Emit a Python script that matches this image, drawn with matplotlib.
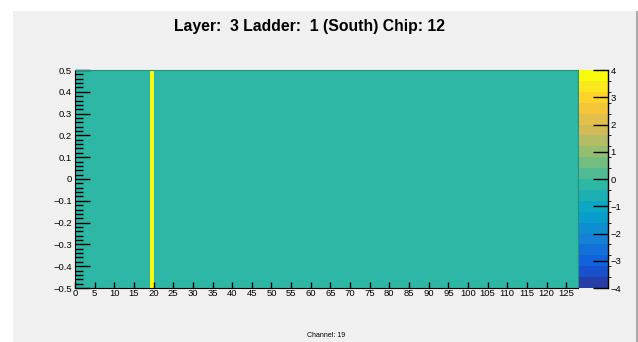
import numpy as np
import matplotlib
matplotlib.use("Agg")
import matplotlib.pyplot as plt
from matplotlib.colors import ListedColormap, BoundaryNorm, LinearSegmentedColormap
from matplotlib.patches import Rectangle
from matplotlib.ticker import MultipleLocator, FuncFormatter

plt.rcParams['font.family'] = ['Liberation Sans', 'DejaVu Sans']

# histogram content: 128 channels, one row
n_channels = 128
hits = np.zeros(n_channels)
hot_channel = 19
hits[hot_channel] = 4
x_edges = np.arange(n_channels + 1)
y_edges = [-0.5, 0.5]

title = "Layer:  3 Ladder:  1 (South) Chip: 12"
xlabel = "Channel: 19"
z_min, z_max, n_levels = -4, 4, 20

# ROOT kBird palette
bird_r = [0.2082, 0.0592, 0.0780, 0.0232, 0.1802, 0.5301, 0.8186, 0.9956, 0.9764]
bird_g = [0.1664, 0.3599, 0.5041, 0.6419, 0.7178, 0.7492, 0.7328, 0.7862, 0.9832]
bird_b = [0.5293, 0.8684, 0.8385, 0.7914, 0.6425, 0.4662, 0.3499, 0.1968, 0.0539]
bird = LinearSegmentedColormap.from_list("bird", list(zip(bird_r, bird_g, bird_b)), N=255)
band_cols = [bird(int((i + 0.99) * 255 / n_levels)) for i in range(n_levels)]
cmap = ListedColormap(band_cols)
# ROOT puts a value sitting on a level edge into the lower band
levels = np.linspace(z_min, z_max, n_levels + 1) + 1e-9
norm = BoundaryNorm(levels, cmap.N, clip=True)

W, H = 638, 342
fig = plt.figure(figsize=(W / 100, H / 100), dpi=100)
fig.patch.set_facecolor('white')
fig.patches.append(Rectangle((13 / W, 0), (636 - 13) / W, (H - 11) / H,
                             transform=fig.transFigure, facecolor='#f0f0f0',
                             edgecolor='none', zorder=-10))
fig.patches.append(Rectangle((636 / W, 0), 2 / W, (H - 11) / H,
                             transform=fig.transFigure, facecolor='#a8a8a8',
                             edgecolor='none', zorder=-9))

ax = fig.add_axes([75 / W, 1 - 288 / H, (578 - 75) / W, (288 - 70) / H])
im = ax.pcolormesh(x_edges, y_edges, hits[np.newaxis, :], cmap=cmap, norm=norm)
ax.set_xlim(0, n_channels)
ax.set_ylim(-0.5, 0.5)

ax.xaxis.set_major_locator(MultipleLocator(5))
ax.yaxis.set_major_locator(MultipleLocator(0.1))
ax.yaxis.set_minor_locator(MultipleLocator(0.02))
ax.yaxis.set_major_formatter(FuncFormatter(lambda v, p: f"{round(v, 2):g}".replace('-', '\u2212')))
ax.tick_params(axis='x', direction='in', length=4, width=1, labelsize=6.8, pad=1)
ax.tick_params(axis='y', which='major', direction='in', length=11, width=1, labelsize=6.8, pad=2)
ax.tick_params(axis='y', which='minor', direction='in', length=5.5, width=1)
for s in ['top', 'right']:
    ax.spines[s].set_color('#26917f')
for s in ['left', 'bottom']:
    ax.spines[s].set_color('black')
ax.set_xlabel(xlabel, fontsize=5, labelpad=24)

cax = fig.add_axes([579 / W, 1 - 288 / H, (608 - 579) / W, (288 - 70) / H])
cb = fig.colorbar(im, cax=cax, ticks=np.arange(z_min, z_max + 1, 1))
cb.outline.set_visible(False)
cb.ax.yaxis.set_major_formatter(FuncFormatter(lambda v, p: f"{v:g}".replace('-', '\u2212')))
cax.tick_params(direction='in', length=11, width=1, labelsize=6.8, pad=2, colors='black')
cax.plot([1, 1], [0, 1], transform=cax.transAxes, color='black', lw=1, clip_on=False)

fig.text(310 / W, 1 - 27 / H, title, ha='center', va='center', fontsize=11.3, fontweight='bold')

fig.savefig("out.png", dpi=100)
